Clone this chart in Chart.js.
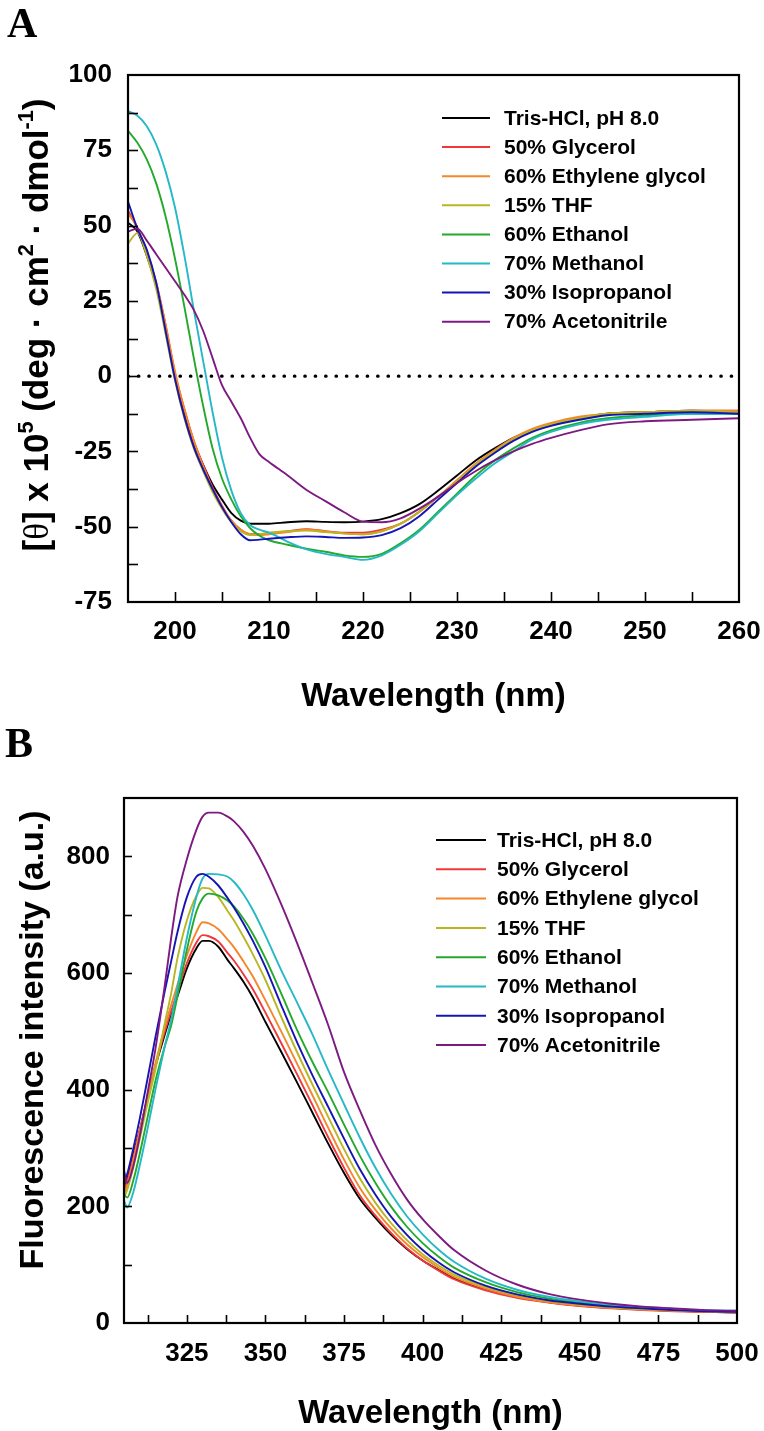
<!DOCTYPE html>
<html>
<head>
<meta charset="utf-8">
<script src="https://cdn.jsdelivr.net/npm/chart.js@4.4.1/dist/chart.umd.min.js"></script>
<style>
html, body { margin: 0; padding: 0; background: #fff; }
canvas { display: block; }
</style>
</head>
<body>
<canvas id="cd" width="764" height="715"></canvas>
<canvas id="fl" width="764" height="716"></canvas>
<script>
// ---- data: panel A, far-UV CD ----
const seriesNames = ['Tris-HCl, pH 8.0', '50% Glycerol', '60% Ethylene glycol', '15% THF',
    '60% Ethanol', '70% Methanol', '30% Isopropanol', '70% Acetonitrile']

const cdWavelength = [195, 196, 197, 198, 199, 200, 201, 202, 203, 204, 205, 206, 207, 208, 209, 210,
    212, 214, 216, 218, 220, 222, 224, 226, 228, 230, 232, 234, 236, 238, 240, 243, 246, 250, 255, 260]
const cdTris = [51, 48, 40, 30, 16, 0, -12, -22, -29.5, -36, -41, -45.5, -48, -49, -49, -49,
    -48.5, -48.2, -48.4, -48.5, -48.3, -47.5, -45.5, -42.5, -38, -33, -28, -24, -20.5, -18, -16, -14, -12.5, -12, -11.5, -12]
const cdGlycerol = [55, 49, 41, 31, 17, 1, -11, -21.5, -29.5, -37, -43, -48, -51, -52.5, -52.5, -52.3,
    -51.5, -50.8, -51.5, -52, -52, -51, -49, -45, -40, -35, -29.5, -25, -21, -18, -16, -14, -12.5, -12, -11.5, -11.5]
const cdEthyleneGlycol = [54, 49.5, 41, 31, 17, 1.5, -11, -21.5, -30, -37.5, -43.5, -48, -51, -52.5, -52.8, -52.5,
    -51.8, -51, -51.6, -52.2, -52.5, -51.5, -49, -45, -40, -34.5, -29, -24.5, -20.5, -17.5, -15.5, -13.5, -12.5, -12, -11.5, -11.5]
const cdTHF = [44, 47.5, 40, 29, 14, -1.5, -14, -24, -31.5, -38.5, -44, -48.5, -51.5, -52.8, -52.5, -52,
    -51.5, -51.3, -51.8, -52.3, -52.5, -51.5, -49, -45, -40, -35, -29.5, -25, -21, -18, -16, -14, -12.5, -12, -11.5, -12]
const cdEthanol = [81.5, 77.5, 72, 64, 53, 39, 23, 6, -10, -24, -34, -41, -46.5, -50.5, -53, -54.5,
    -56, -57.3, -58.3, -59.5, -60, -59, -55.5, -51, -45, -39, -33, -28, -24, -20.5, -18, -15.5, -14, -13, -12.5, -12.5]
const cdMethanol = [88, 86.5, 83, 77, 68, 56, 40, 22, 5, -12, -27, -38, -45.5, -49.5, -51, -52,
    -55, -57.5, -59, -60, -61, -59.5, -56, -51.5, -45.5, -39.5, -34, -29, -25, -21, -18.5, -16, -14.5, -13.5, -12.5, -12.5]
const cdIsopropanol = [58, 49, 42, 31, 15, -1, -13.5, -23.5, -31, -37.5, -43.5, -48.5, -52.5, -54.5, -54.3, -54,
    -53.5, -53.2, -53.4, -53.7, -53.6, -52.8, -50.5, -46.5, -41, -35.5, -30, -25.5, -21.5, -18.5, -16.5, -14.5, -13, -12.5, -12, -12.5]
const cdAcetonitrile = [48, 49, 45, 40.5, 36, 31.5, 27, 22, 15, 6, -3, -8.5, -14, -20.5, -26, -28.5,
    -33, -37.8, -41.5, -45.2, -48.3, -48.5, -47.2, -44, -40, -35.5, -31.5, -28, -25, -22.5, -20.5, -18, -16, -15, -14.5, -14]
const cdZeroLine = [0, 0]
const cdZeroLineX = [195, 260]

const cdTicksX = [200, 210, 220, 230, 240, 250, 260]
const cdTicksY = [-75, -50, -25, 0, 25, 50, 75, 100]

// ---- data: panel B, intrinsic fluorescence ----
const flWavelength = [305, 306, 308, 310, 312, 315, 318, 320, 322, 325, 328, 330, 332, 335, 338, 340, 343, 346,
    350, 355, 360, 365, 370, 375, 380, 385, 390, 395, 400, 405, 410, 420, 430, 440, 450, 460, 470, 480, 490, 500]
const flTris = [230, 245, 290, 330, 375, 440, 495, 530, 560, 608, 642, 655, 655, 645, 622, 608, 585, 558,
    516, 465, 413, 360, 307, 257, 213, 180, 151, 127, 107, 91, 77, 58, 45, 36, 30, 26, 23, 21, 19, 18]
const flGlycerol = [228, 242, 285, 330, 375, 442, 500, 535, 568, 617, 652, 665, 663, 654, 634, 621, 598, 572,
    532, 480, 427, 373, 318, 266, 219, 184, 154, 128, 107, 90, 75, 56, 43, 35, 29, 25, 22, 20, 19, 18]
const flEthyleneGlycol = [220, 235, 280, 328, 375, 445, 508, 545, 580, 630, 670, 687, 685, 675, 657, 644, 620, 594,
    553, 500, 445, 390, 334, 280, 232, 194, 162, 135, 113, 95, 79, 59, 45, 36, 30, 26, 23, 21, 19.5, 18.5]
const flTHF = [215, 228, 268, 315, 365, 435, 515, 565, 625, 690, 732, 746, 745, 730, 706, 690, 662, 632,
    588, 525, 465, 408, 353, 298, 248, 206, 171, 142, 118, 99, 83, 62, 48, 38, 32, 27, 24, 22, 20, 19]
const flEthanol = [221, 215, 245, 290, 340, 415, 475, 510, 560, 640, 705, 728, 736, 733, 724, 714, 693, 667,
    625, 565, 503, 447, 395, 340, 287, 240, 199, 165, 137, 114, 95, 70, 53, 42, 35, 30, 26, 23, 21, 20]
const flMethanol = [210, 198, 225, 270, 320, 400, 475, 520, 575, 660, 730, 762, 770, 769, 765, 756, 735, 708,
    664, 605, 550, 494, 433, 375, 318, 266, 221, 183, 152, 126, 105, 76, 57, 45, 37, 31, 27, 24, 22, 21]
const flIsopropanol = [240, 255, 300, 350, 405, 490, 570, 620, 670, 730, 765, 770, 765, 750, 728, 712, 685, 655,
    610, 545, 482, 424, 370, 316, 264, 220, 182, 151, 125, 104, 87, 64, 49, 39, 33, 28, 25, 22, 20, 19]
const flAcetonitrile = [262, 240, 270, 320, 380, 470, 580, 660, 730, 795, 845, 868, 875, 875, 868, 860, 842, 818,
    778, 718, 652, 582, 510, 430, 365, 305, 255, 212, 178, 150, 125, 90, 66, 50, 40, 33, 28, 25, 22, 21]

const flTicksX = [325, 350, 375, 400, 425, 450, 475, 500]
const flTicksY = [0, 200, 400, 600, 800]

// ---- styles ----
const seriesColors = ['#000000', '#f0383c', '#f5862a', '#b9b622', '#23a92c', '#25b9c6', '#1515b4', '#7d1a82']
const SANS = '"Liberation Sans", Arial, Helvetica, sans-serif'
const SERIF = '"Liberation Serif", "Times New Roman", serif'

function series(xs, ys) {
    return ys.map(function(y, i) { return {x: xs[i], y: y} })
}

// major ticks plus one minor tick half way between each pair of majors
function withMinor(majors, min, max) {
    var out = []
    var step = majors[1] - majors[0]
    var v = majors[0] - step / 2
    if (v > min) out.push(v)
    majors.forEach(function(m) {
        out.push(m)
        if (m + step / 2 < max) out.push(m + step / 2)
    })
    return out.filter(function(t) { return t >= min && t <= max })
}

// frame, inward tick marks, axis titles, legend and panel letter
const decor = {
    id: 'decor',
    afterDraw(chart, args, opts) {
        var ctx = chart.ctx
        var area = chart.chartArea
        ctx.save()

        // inward ticks
        ctx.strokeStyle = '#000'
        ctx.lineWidth = 1.6
        var xs = chart.scales.x, ys = chart.scales.y
        xs.ticks.forEach(function(t) {
            if (t.value <= xs.min || t.value >= xs.max) return
            var px = Math.round(xs.getPixelForValue(t.value)) + 0.5
            ctx.beginPath()
            ctx.moveTo(px, area.bottom)
            ctx.lineTo(px, area.bottom - opts.tickLen)
            ctx.stroke()
        })
        ys.ticks.forEach(function(t) {
            if (t.value <= ys.min || t.value >= ys.max) return
            var py = Math.round(ys.getPixelForValue(t.value)) + 0.5
            ctx.beginPath()
            ctx.moveTo(area.left, py)
            ctx.lineTo(area.left + opts.tickLen, py)
            ctx.stroke()
        })

        // frame
        ctx.lineWidth = 2.2
        ctx.strokeRect(area.left, area.top, area.right - area.left, area.bottom - area.top)

        // x title
        ctx.fillStyle = '#000'
        ctx.textAlign = 'center'
        ctx.textBaseline = 'middle'
        ctx.font = 'bold ' + opts.xTitleSize + 'px ' + SANS
        ctx.fillText(opts.xTitle, (area.left + area.right) / 2, opts.xTitleY)

        // y title, rotated, with superscripts
        ctx.save()
        ctx.translate(opts.yTitleX, opts.yTitleY)
        ctx.rotate(-Math.PI / 2)
        ctx.textAlign = 'left'
        ctx.textBaseline = 'alphabetic'
        var size = opts.yTitleSize
        var parts = opts.yTitle.map(function(p) {
            var s = p.sup ? size * 0.62 : size
            var f = (p.serif ? 'normal ' : 'bold ') + s + 'px ' + (p.serif ? SERIF : SANS)
            ctx.font = f
            return {text: p.text, font: f, sup: p.sup, w: ctx.measureText(p.text).width}
        })
        var total = parts.reduce(function(a, p) { return a + p.w }, 0)
        var cx = -total / 2
        parts.forEach(function(p) {
            ctx.font = p.font
            ctx.fillText(p.text, cx, size * 0.36 + (p.sup ? -size * 0.42 : 0))
            cx += p.w
        })
        ctx.restore()

        // legend
        var lg = opts.legend
        ctx.font = 'bold ' + lg.size + 'px ' + SANS
        ctx.textAlign = 'left'
        ctx.textBaseline = 'middle'
        var row = 0
        chart.data.datasets.forEach(function(ds) {
            if (ds.noLegend) return
            var y = lg.y + row * lg.gap
            ctx.strokeStyle = ds.borderColor
            ctx.lineWidth = 2
            ctx.beginPath()
            ctx.moveTo(lg.x0, y)
            ctx.lineTo(lg.x1, y)
            ctx.stroke()
            ctx.fillStyle = '#000'
            ctx.fillText(ds.label, lg.tx, y + 1)
            row++
        })

        // panel letter
        ctx.font = 'bold ' + opts.letterSize + 'px ' + SERIF
        ctx.textAlign = 'left'
        ctx.textBaseline = 'alphabetic'
        ctx.fillStyle = '#000'
        ctx.fillText(opts.letter, opts.letterX, opts.letterY)
        ctx.restore()
    }
}

function makeChart(canvasId, xs, ysList, extra, ax, deco) {
    var datasets = ysList.map(function(ys, i) {
        return {
            label: seriesNames[i],
            data: series(xs, ys),
            borderColor: seriesColors[i],
            borderWidth: 1.9,
            pointRadius: 0,
            fill: false,
            cubicInterpolationMode: 'monotone',
            order: ysList.length - i,
        }
    })
    extra.forEach(function(d) { datasets.push(d) })

    var tickFont = {family: SANS, size: ax.tickSize, weight: 'bold'}
    return new Chart(document.getElementById(canvasId), {
        type: 'line',
        data: {datasets: datasets},
        options: {
            responsive: false,
            animation: false,
            events: [],
            layout: {padding: {top: ax.top, right: ax.right, left: 0, bottom: 0}},
            plugins: {legend: {display: false}, tooltip: {enabled: false}, decor: deco},
            scales: {
                x: {
                    type: 'linear',
                    min: ax.xMin,
                    max: ax.xMax,
                    afterBuildTicks: function(s) {
                        s.ticks = withMinor(ax.xTicks, ax.xMin, ax.xMax).map(function(v) { return {value: v} })
                    },
                    afterFit: function(s) {
                        s.height = ax.xHeight
                        s.paddingLeft = 0
                        s.paddingRight = 0
                    },
                    ticks: {
                        autoSkip: false,
                        maxRotation: 0,
                        padding: ax.xPad,
                        color: '#000',
                        font: tickFont,
                        callback: function(v) { return ax.xTicks.includes(v) ? String(v) : '' },
                    },
                    grid: {display: false, drawTicks: false},
                    border: {display: false},
                },
                y: {
                    type: 'linear',
                    min: ax.yMin,
                    max: ax.yMax,
                    afterBuildTicks: function(s) {
                        s.ticks = withMinor(ax.yTicks, ax.yMin, ax.yMax).map(function(v) { return {value: v} })
                    },
                    afterFit: function(s) {
                        s.width = ax.yWidth
                        s.paddingTop = 0
                        s.paddingBottom = 0
                    },
                    ticks: {
                        autoSkip: false,
                        padding: ax.yPad,
                        color: '#000',
                        font: tickFont,
                        callback: function(v) { return ax.yTicks.includes(v) ? String(v) : '' },
                    },
                    grid: {display: false, drawTicks: false},
                    border: {display: false},
                },
            },
        },
        plugins: [decor],
    })
}

// panel A
makeChart('cd', cdWavelength,
    [cdTris, cdGlycerol, cdEthyleneGlycol, cdTHF, cdEthanol, cdMethanol, cdIsopropanol, cdAcetonitrile],
    [{
        label: '',
        noLegend: true,
        data: series(cdZeroLineX, cdZeroLine),
        borderColor: '#000',
        borderWidth: 3.2,
        borderDash: [0.5, 9.9],
        borderCapStyle: 'round',
        pointRadius: 0,
        order: 0,
    }],
    {
        top: 75, right: 25, xHeight: 113, yWidth: 128,
        xMin: 195, xMax: 260, yMin: -75, yMax: 100,
        xTicks: cdTicksX, yTicks: cdTicksY,
        tickSize: 26, xPad: 14, yPad: 16,
    },
    {
        tickLen: 10,
        xTitle: 'Wavelength (nm)', xTitleY: 697, xTitleSize: 33,
        yTitleX: 35, yTitleY: 325, yTitleSize: 35,
        yTitle: [
            {text: '['}, {text: 'θ', serif: true}, {text: '] x 10'}, {text: '5', sup: true},
            {text: ' (deg · cm'}, {text: '2', sup: true}, {text: ' · dmol'}, {text: '-1', sup: true}, {text: ')'},
        ],
        legend: {x0: 442, x1: 490, tx: 504, y: 118, gap: 29.1, size: 21},
        letter: 'A', letterX: 7, letterY: 37, letterSize: 42,
    })

// panel B
makeChart('fl', flWavelength,
    [flTris, flGlycerol, flEthyleneGlycol, flTHF, flEthanol, flMethanol, flIsopropanol, flAcetonitrile],
    [],
    {
        top: 83, right: 27, xHeight: 108, yWidth: 124,
        xMin: 305, xMax: 500, yMin: 0, yMax: 900,
        xTicks: flTicksX, yTicks: flTicksY,
        tickSize: 26, xPad: 15, yPad: 14,
    },
    {
        tickLen: 8,
        xTitle: 'Wavelength (nm)', xTitleY: 699, xTitleSize: 33,
        yTitleX: 31, yTitleY: 325, yTitleSize: 34,
        yTitle: [{text: 'Fluorescence intensity (a.u.)'}],
        legend: {x0: 436, x1: 486, tx: 497, y: 125, gap: 29.3, size: 21},
        letter: 'B', letterX: 5, letterY: 42, letterSize: 42,
    })
</script>
</body>
</html>
